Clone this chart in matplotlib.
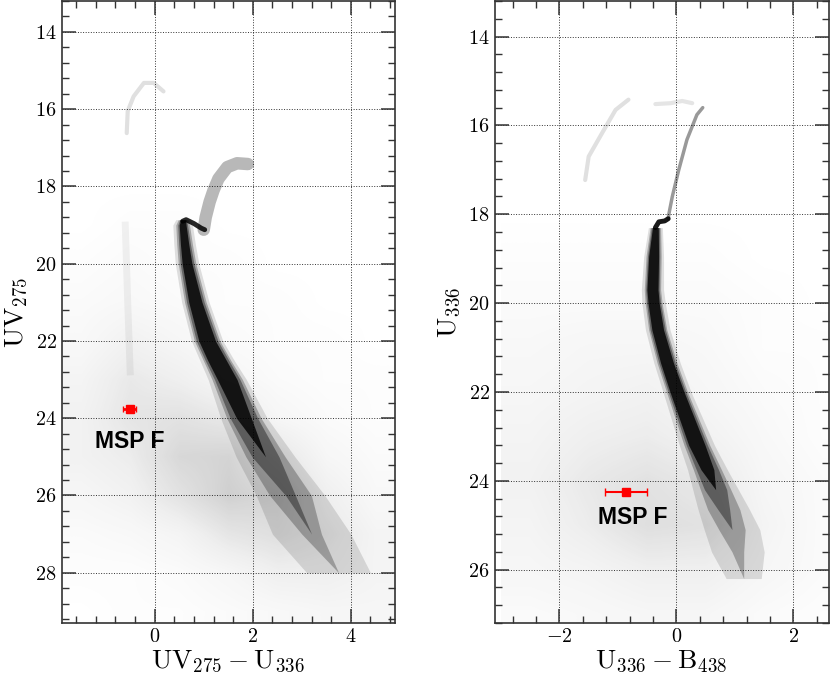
import numpy as np
import matplotlib
matplotlib.use("Agg")
import matplotlib.pyplot as plt

plt.rcParams['font.family'] = 'serif'
plt.rcParams['font.serif'] = ['cmr10']
plt.rcParams['mathtext.fontset'] = 'cm'
plt.rcParams['axes.formatter.use_mathtext'] = True

# ---- panel 1: UV275 vs UV275-U336 ----
# main sequence ridge (mag, colour) and its width at four density levels
ms1_mag = [18.86, 19.0, 19.5, 20.0, 21.0, 22.0, 22.5, 23.0, 24.0, 25.0, 26.0, 27.0, 28.0]
ms1_col = [0.58, 0.57, 0.61, 0.66, 0.83, 1.07, 1.27, 1.48, 1.82, 2.26, 2.77, 3.20, 3.75]
ms1_l4 = [0.10, 0.14, 0.17, 0.20, 0.27, 0.34, 0.38, 0.40, 0.30, 0.00, 0.00, 0.00, 0.00]
ms1_l3 = [0.14, 0.20, 0.24, 0.28, 0.36, 0.44, 0.48, 0.52, 0.56, 0.55, 0.20, 0.00, 0.00]
ms1_l2 = [0.20, 0.28, 0.32, 0.36, 0.44, 0.52, 0.56, 0.62, 0.70, 0.80, 0.85, 0.40, 0.00]
ms1_l1 = [0.30, 0.40, 0.44, 0.48, 0.56, 0.64, 0.70, 0.78, 0.95, 1.20, 1.40, 1.60, 1.30]
# sub giant branch and red giant branch
sgb1_col = [0.57, 0.64, 0.80, 0.95, 1.02]
sgb1_mag = [18.90, 18.86, 18.96, 19.08, 19.12]
rgb1_col = [1.00, 1.04, 1.12, 1.20, 1.30, 1.48, 1.68, 1.90]
rgb1_mag = [19.12, 18.80, 18.40, 18.10, 17.80, 17.50, 17.40, 17.42]
# horizontal branch and faint blue streak
hb1_col = [-0.57, -0.55, -0.43, -0.22, -0.02, 0.18]
hb1_mag = [16.62, 16.05, 15.67, 15.32, 15.32, 15.54]
bs1_col = [-0.60, -0.55, -0.50]
bs1_mag = [19.0, 21.0, 22.8]
# field / diffuse star density (rows = mag, cols = colour)
f1_col = [-1.5, -0.5, 0.5, 1.5, 2.5, 3.5, 4.5]
f1_mag = [14, 15, 16, 17, 18, 19, 20, 21, 22, 23, 24, 25, 26, 27, 28, 29]
f1_dens = [
    [0.00, 0.00, 0.00, 0.00, 0.00, 0.00, 0.00],
    [0.00, 0.00, 0.00, 0.00, 0.00, 0.00, 0.00],
    [0.00, 0.00, 0.00, 0.00, 0.00, 0.00, 0.00],
    [0.00, 0.00, 0.00, 0.00, 0.00, 0.00, 0.00],
    [0.00, 0.00, 0.00, 0.00, 0.00, 0.00, 0.00],
    [0.00, 0.01, 0.01, 0.00, 0.00, 0.00, 0.00],
    [0.01, 0.02, 0.01, 0.01, 0.00, 0.00, 0.00],
    [0.02, 0.03, 0.02, 0.01, 0.01, 0.00, 0.00],
    [0.03, 0.06, 0.04, 0.02, 0.01, 0.01, 0.00],
    [0.05, 0.09, 0.07, 0.04, 0.02, 0.01, 0.01],
    [0.06, 0.10, 0.11, 0.09, 0.04, 0.02, 0.01],
    [0.06, 0.08, 0.14, 0.15, 0.10, 0.04, 0.02],
    [0.04, 0.06, 0.11, 0.16, 0.14, 0.07, 0.03],
    [0.02, 0.03, 0.05, 0.10, 0.12, 0.09, 0.05],
    [0.01, 0.01, 0.02, 0.04, 0.07, 0.07, 0.05],
    [0.00, 0.01, 0.01, 0.02, 0.03, 0.04, 0.04],
]
msp1_col, msp1_mag, msp1_xerr, msp1_yerr = -0.51, 23.76, 0.13, 0.04

# ---- panel 2: U336 vs U336-B438 ----
ms2_mag = [18.3, 18.95, 19.7, 20.0, 20.6, 21.35, 22.0, 22.6, 23.2, 23.75, 24.2, 24.65, 25.1, 25.6, 26.2]
ms2_col = [-0.36, -0.39, -0.41, -0.39, -0.32, -0.16, 0.01, 0.18, 0.35, 0.53, 0.67, 0.81, 0.95, 1.05, 1.15]
ms2_l4 = [0.10, 0.17, 0.19, 0.19, 0.20, 0.22, 0.24, 0.26, 0.28, 0.22, 0.00, 0.00, 0.00, 0.00, 0.00]
ms2_l3 = [0.14, 0.21, 0.23, 0.24, 0.26, 0.28, 0.30, 0.33, 0.36, 0.38, 0.38, 0.20, 0.00, 0.00, 0.00]
ms2_l2 = [0.18, 0.26, 0.28, 0.29, 0.31, 0.34, 0.36, 0.40, 0.44, 0.48, 0.52, 0.55, 0.45, 0.20, 0.00]
ms2_l1 = [0.24, 0.34, 0.38, 0.40, 0.42, 0.45, 0.48, 0.54, 0.60, 0.68, 0.78, 0.88, 0.95, 0.90, 0.60]
sgb2_col = [-0.36, -0.30, -0.20, -0.14]
sgb2_mag = [18.30, 18.17, 18.15, 18.10]
rgb2_col = [-0.14, -0.13, -0.07, 0.04, 0.18, 0.35, 0.45]
rgb2_mag = [18.10, 18.00, 17.60, 17.00, 16.32, 15.76, 15.60]
hb2_col = [-1.56, -1.50, -1.27, -1.04, -0.82]
hb2_mag = [17.23, 16.70, 16.17, 15.65, 15.42]
agb2_col = [-0.36, -0.10, 0.10, 0.27]
agb2_mag = [15.52, 15.50, 15.45, 15.50]
f2_col = [-2.5, -1.5, -0.5, 0.5, 1.5, 2.5]
f2_mag = [14, 15, 16, 17, 18, 19, 20, 21, 22, 23, 24, 25, 26, 27]
f2_dens = [
    [0.00, 0.00, 0.00, 0.00, 0.00, 0.00],
    [0.00, 0.00, 0.00, 0.00, 0.00, 0.00],
    [0.00, 0.00, 0.00, 0.00, 0.00, 0.00],
    [0.00, 0.00, 0.00, 0.00, 0.00, 0.00],
    [0.00, 0.00, 0.00, 0.00, 0.00, 0.00],
    [0.01, 0.01, 0.01, 0.01, 0.00, 0.00],
    [0.02, 0.02, 0.02, 0.02, 0.01, 0.00],
    [0.03, 0.04, 0.04, 0.03, 0.01, 0.01],
    [0.04, 0.05, 0.06, 0.04, 0.02, 0.01],
    [0.05, 0.07, 0.08, 0.06, 0.03, 0.01],
    [0.06, 0.09, 0.11, 0.09, 0.04, 0.02],
    [0.05, 0.08, 0.12, 0.11, 0.05, 0.02],
    [0.04, 0.05, 0.07, 0.07, 0.04, 0.02],
    [0.02, 0.03, 0.04, 0.04, 0.02, 0.01],
]
msp2_col, msp2_mag, msp2_xerr, msp2_yerr = -0.86, 24.26, 0.36, 0.03


def field(ax, cols, mags, dens):
    dc = cols[1] - cols[0]
    dm = mags[1] - mags[0]
    ax.imshow(np.array(dens), cmap='Greys', vmin=0, vmax=0.55, interpolation='bilinear',
              extent=(cols[0] - dc / 2, cols[-1] + dc / 2, mags[-1] + dm / 2, mags[0] - dm / 2),
              aspect='auto', zorder=0)


def sequence(ax, mag, col, levels):
    # nested density levels, outermost first
    mag = np.array(mag)
    col = np.array(col)
    for w, a in zip(levels, (0.12, 0.26, 0.38, 0.8)):
        w = np.array(w)
        ax.fill_betweenx(mag, col - w / 2, col + w / 2, color='k', alpha=a, lw=0, zorder=2)


def style(ax, xlim, ylim, xlabel, ylabel):
    ax.set_xlim(xlim)
    ax.set_ylim(ylim)
    ax.xaxis.set_major_locator(plt.MultipleLocator(2))
    ax.xaxis.set_minor_locator(plt.MultipleLocator(0.4))
    ax.yaxis.set_major_locator(plt.MultipleLocator(2))
    ax.yaxis.set_minor_locator(plt.MultipleLocator(0.4))
    ax.tick_params(which='both', direction='in', top=True, right=True, labelsize=14.5, color='0.2')
    ax.tick_params(which='major', length=10, width=1.1)
    ax.tick_params(which='minor', length=5, width=1.0)
    ax.grid(True, which='major', ls=':', color='k', lw=0.7, alpha=0.8)
    for s in ax.spines.values():
        s.set_linewidth(1.2)
        s.set_color('0.2')
    ax.set_xlabel(xlabel, fontsize=19.5, labelpad=2)
    ax.set_ylabel(ylabel, fontsize=19.5, labelpad=4)


fig = plt.figure(figsize=(8.3, 6.77), dpi=100)
ax1 = fig.add_axes([0.0741, 0.0798, 0.4018, 0.9187])
ax2 = fig.add_axes([0.5958, 0.0798, 0.4024, 0.9187])

# left panel
field(ax1, f1_col, f1_mag, f1_dens)
ax1.plot(bs1_col, bs1_mag, color='k', alpha=0.05, lw=5, zorder=1)
ax1.plot(hb1_col, hb1_mag, color='k', alpha=0.12, lw=3, solid_capstyle='round', zorder=1)
sequence(ax1, ms1_mag, ms1_col, (ms1_l1, ms1_l2, ms1_l3, ms1_l4))
ax1.plot(rgb1_col, rgb1_mag, color='k', alpha=0.28, lw=9, solid_capstyle='round',
         solid_joinstyle='round', zorder=2)
ax1.plot(sgb1_col, sgb1_mag, color='k', alpha=0.85, lw=3.5, solid_capstyle='round',
         solid_joinstyle='round', zorder=3)
ax1.errorbar(msp1_col, msp1_mag, xerr=msp1_xerr, yerr=msp1_yerr, fmt='s', color='red',
             ms=6, capsize=2, elinewidth=2, zorder=5)
ax1.text(-0.5, 24.6, 'MSP F', family='Liberation Sans', weight='bold', fontsize=16.5,
         ha='center', va='center', zorder=6)
style(ax1, (-1.9, 4.9), (29.3, 13.2), r'$\mathrm{UV_{275} - U_{336}}$', r'$\mathrm{UV_{275}}$')

# right panel
field(ax2, f2_col, f2_mag, f2_dens)
ax2.plot(hb2_col, hb2_mag, color='k', alpha=0.12, lw=3, solid_capstyle='round', zorder=1)
ax2.plot(agb2_col, agb2_mag, color='k', alpha=0.1, lw=3, solid_capstyle='round', zorder=1)
sequence(ax2, ms2_mag, ms2_col, (ms2_l1, ms2_l2, ms2_l3, ms2_l4))
ax2.plot(rgb2_col, rgb2_mag, color='k', alpha=0.4, lw=2.5, solid_capstyle='round',
         solid_joinstyle='round', zorder=2)
ax2.plot(sgb2_col, sgb2_mag, color='k', alpha=0.9, lw=3.5, solid_capstyle='round',
         solid_joinstyle='round', zorder=3)
ax2.errorbar(msp2_col, msp2_mag, xerr=msp2_xerr, yerr=msp2_yerr, fmt='s', color='red',
             ms=6, capsize=3, elinewidth=1.5, zorder=5)
ax2.text(-0.75, 24.83, 'MSP F', family='Liberation Sans', weight='bold', fontsize=16.5,
         ha='center', va='center', zorder=6)
style(ax2, (-3.11, 2.6), (27.2, 13.2), r'$\mathrm{U_{336} - B_{438}}$', r'$\mathrm{U_{336}}$')

fig.savefig('out.png', dpi=100)
